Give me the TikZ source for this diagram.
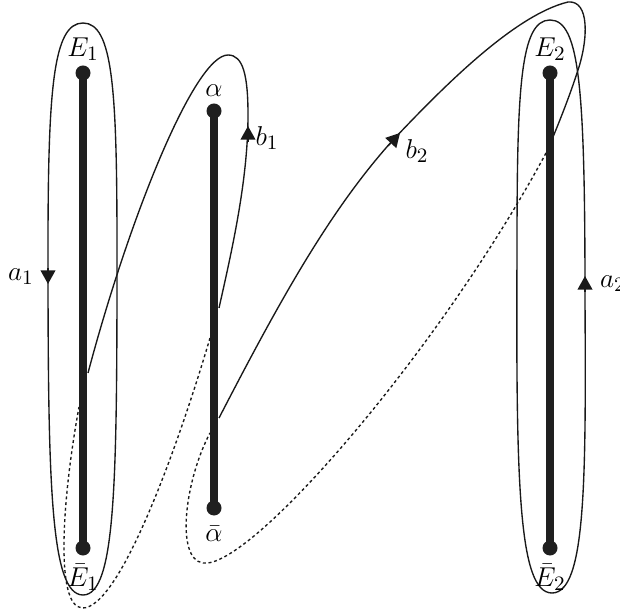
\documentclass[tikz,border=0pt]{standalone}
\usetikzlibrary{arrows.meta}
\begin{document}
\begin{tikzpicture}[x=0.44pt,y=-0.44pt,
  loopline/.style={line width=0.6pt, black!90},
  hidden/.style={line width=0.6pt, black!90, dash pattern=on 1.3pt off 1.2pt},
  barline/.style={line width=3.1pt, black!88},
  dotmark/.style={circle, fill=black!88, inner sep=0pt, minimum size=6.6pt},
  tipline/.style={line width=0.6pt, black!90, -{Triangle[length=6pt,width=6.5pt]}},
  lab/.style={inner sep=0pt, font=\fontsize{13}{15}\selectfont}]
\useasboundingbox (0,0) rectangle (620,613);

% a1 loop around E1
\draw[loopline] (83,23) .. controls (53,23) and (48,90) .. (48,250)
  .. controls (48,480) and (50,595) .. (83,595)
  .. controls (116,595) and (117,480) .. (117,250)
  .. controls (117,90) and (113,23) .. (83,23) -- cycle;
% a2 loop around E2
\draw[loopline] (550,20) .. controls (520,20) and (517,90) .. (517,250)
  .. controls (516,480) and (518,593) .. (552,593)
  .. controls (586,593) and (586,480) .. (585,300)
  .. controls (585,90) and (580,20) .. (550,20) -- cycle;

% b1 loop
\draw[loopline] (88,373) .. controls (130,215) and (195,55) .. (228,55)
  .. controls (243,55) and (248,75) .. (248,115)
  .. controls (248,180) and (232,250) .. (219,308);
\draw[hidden] (210,338) .. controls (180,440) and (120,610) .. (82,608)
  .. controls (55,606) and (62,500) .. (79,407);

% b2 loop
\draw[loopline] (219,418) .. controls (280,300) and (330,210) .. (393,140)
  .. controls (445,85) and (515,15) .. (568,2)
  .. controls (590,0) and (588,40) .. (578,70)
  .. controls (570,95) and (560,120) .. (553,137);
\draw[hidden] (546,153) .. controls (440,350) and (250,570) .. (203,563)
  .. controls (175,559) and (185,480) .. (210,433);

% arrowheads
\draw[tipline] (48,268) -- (48,284);
\draw[tipline] (585,292) -- (585,276);
\draw[tipline] (248,142) -- (248,126);
\draw[tipline] (388,146) -- (400,133);

% bars
\draw[barline] (83,73) -- (83,548);
\draw[barline] (214,111) -- (214,508);
\draw[barline] (550,73) -- (550,548);
\node[dotmark] (e1) at (83,73) {};
\node[dotmark] (e1b) at (83,548) {};
\node[dotmark] (al) at (214,111) {};
\node[dotmark] (alb) at (214,508) {};
\node[dotmark] (e2) at (550,73) {};
\node[dotmark] (e2b) at (550,548) {};

% labels
\node[lab] (lE1) at (83,49) {$E_1$};
\node[lab] (lE1b) at (83,577) {$\bar{E}_1$};
\node[lab] (lal) at (214,91) {$\alpha$};
\node[lab] (lalb) at (214,534) {$\bar{\alpha}$};
\node[lab] (lE2) at (550,49) {$E_2$};
\node[lab] (lE2b) at (550,577) {$\bar{E}_2$};
\node[lab] (la1) at (21,277) {$a_1$};
\node[lab] (lb1) at (267,138) {$b_1$};
\node[lab] (lb2) at (417,151) {$b_2$};
\node[lab] (la2) at (613,284) {$a_2$};
\end{tikzpicture}
\end{document}
